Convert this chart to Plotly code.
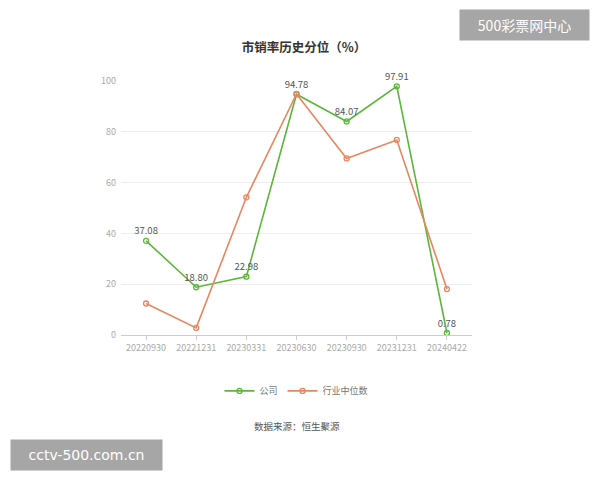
import plotly.graph_objects as go

dates = ["20220930", "20221231", "20230331", "20230630", "20230930", "20231231", "20240422"]
company = [37.08, 18.80, 22.98, 94.78, 84.07, 97.91, 0.78]
industry = [12.4, 2.8, 54.2, 94.9, 69.5, 76.8, 18.1]

green = "#5bb63a"
orange = "#e8865f"
font_cn = "Noto Sans CJK SC"

# the page body has an 8px margin, so the figure is drawn 8px smaller
fig = go.Figure()
fig.add_scatter(x=dates, y=company, name="公司", mode="lines+markers+text",
                line=dict(color=green, width=1.6), cliponaxis=False,
                marker=dict(symbol="circle-open", size=5, color=green, line=dict(width=1.3)),
                text=["%.2f" % v for v in company], textposition="top center",
                textfont=dict(size=9.5, color="#555", family=font_cn))
fig.add_scatter(x=dates, y=industry, name="行业中位数", mode="lines+markers",
                line=dict(color=orange, width=1.6), cliponaxis=False,
                marker=dict(symbol="circle-open", size=5, color=orange, line=dict(width=1.3)))

fig.update_layout(
    width=592, height=472,
    paper_bgcolor="white", plot_bgcolor="white",
    margin=dict(l=113, r=128, t=73, b=145),
    font=dict(family=font_cn, size=9, color="#999"),
    title=dict(text="<b>市销率历史分位（%）</b>", x=0.5, xanchor="center", y=0.917, yanchor="middle",
               font=dict(size=12.5, color="#333", family=font_cn)),
    showlegend=True,
    legend=dict(orientation="h", x=0.5, xanchor="center", y=-0.22, yanchor="middle",
                font=dict(size=9, color="#777"), itemwidth=30),
    xaxis=dict(type="category", showgrid=False, showline=True, linecolor="#ccc",
               ticks="outside", ticklen=4, tickcolor="#ccc",
               tickfont=dict(size=9, color="#aaa"), range=[-0.5, 6.5]),
    yaxis=dict(range=[0, 100], dtick=20, showgrid=True, gridcolor="#eee", zeroline=False,
               showline=False, tickfont=dict(size=9, color="#aaa"), ticksuffix="  "),
)

fig.add_annotation(text="数据来源：恒生聚源", xref="paper", yref="paper", x=0.5, y=-0.358,
                   xanchor="center", yanchor="middle", showarrow=False,
                   font=dict(size=9.5, color="#555", family=font_cn))

# watermarks
fig.add_annotation(text="500彩票网中心", xref="paper", yref="paper", x=1.336, y=1.220,
                   xanchor="right", yanchor="middle", showarrow=False,
                   bgcolor="#a6a6a6", borderpad=6, width=117, height=18,
                   font=dict(size=14, color="white", family=font_cn))
fig.add_annotation(text="cctv-500.com.cn", xref="paper", yref="paper", x=-0.316, y=-0.472,
                   xanchor="left", yanchor="middle", showarrow=False,
                   bgcolor="#a6a6a6", borderpad=6, width=139, height=18,
                   font=dict(size=14, color="white", family="DejaVu Sans"))

fig.write_html("out.html")
